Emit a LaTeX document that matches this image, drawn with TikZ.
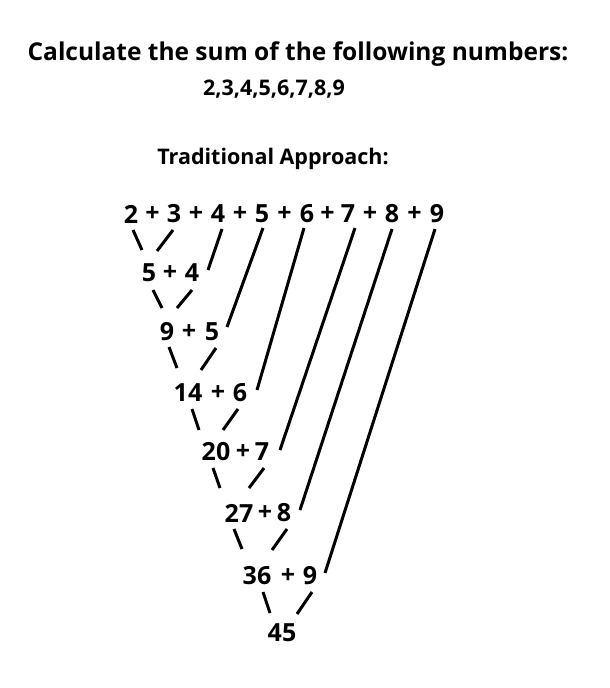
\documentclass[tikz,border=0pt]{standalone}
\usepackage{fontspec}
\setmainfont{Open Sans}
\usetikzlibrary{calc}
\begin{document}
\begin{tikzpicture}[x=1pt, y=-1pt,
        every node/.style={font=\fontsize{25}{30}\selectfont\bfseries, inner sep=0pt},
        heading/.style={font=\fontsize{21.5}{26}\selectfont\bfseries},
        stroke/.style={line width=3pt}]
            \useasboundingbox (0, 0) rectangle (610, 688);
            % heading
            \node[font=\fontsize{24.5}{30}\selectfont\bfseries] (title) at (298, 54) {Calculate the sum of the following numbers:};
            \node[heading] (list) at (274, 89) {2,3,4,5,6,7,8,9};
            \node[heading] (method) at (273, 159) {Traditional Approach:};

            % top row
            \node (t2) at (131, 214) {2};
            \node (t3) at (174, 214) {3};
            \node (t4) at (218, 214) {4};
            \node (t5) at (262, 214) {5};
            \node (t6) at (307, 214) {6};
            \node (t7) at (348, 214) {7};
            \node (t8) at (392, 214) {8};
            \node (t9) at (437, 214) {9};
            \node (p1) at ($(t2)!0.5!(t3)$) {+};
            \node (p2) at ($(t3)!0.5!(t4)$) {+};
            \node (p3) at ($(t4)!0.5!(t5)$) {+};
            \node (p4) at ($(t5)!0.5!(t6)$) {+};
            \node (p5) at ($(t6)!0.5!(t7)$) {+};
            \node (p6) at ($(t7)!0.5!(t8)$) {+};
            \node (p7) at ($(t8)!0.5!(t9)$) {+};

            % running sums
            \node (r1) at (149, 273) {5};
            \node (q1) at (170, 273) {+};
            \node (a1) at (192, 273) {4};
            \node (r2) at (167, 332) {9};
            \node (q2) at (189, 332) {+};
            \node (a2) at (212, 332) {5};
            \node (r3) at (188, 393) {14};
            \node (q3) at (218, 393) {+};
            \node (a3) at (240, 393) {6};
            \node (r4) at (216, 452) {20};
            \node (q4) at (243, 452) {+};
            \node (a4) at (262, 452) {7};
            \node (r5) at (239, 513) {27};
            \node (q5) at (265, 513) {+};
            \node (a5) at (284, 513) {8};
            \node (r6) at (257, 576) {36};
            \node (q6) at (288, 576) {+};
            \node (a6) at (310, 576) {9};
            \node (res) at (282, 633) {45};

            % short branches
            \draw[stroke] ([shift={(2, 16)}]t2.center) -- ([shift={(-7, -23)}]r1.center);
            \draw[stroke] ([shift={(-1, 16)}]t3.center) -- ([shift={(8, -22)}]r1.center);
            \draw[stroke] ([shift={(4, 17)}]r1.center) -- ([shift={(-5, -24)}]r2.center);
            \draw[stroke] ([shift={(0, 17)}]a1.center) -- ([shift={(10, -24)}]r2.center);
            \draw[stroke] ([shift={(2, 15)}]r2.center) -- ([shift={(-11, -25)}]r3.center);
            \draw[stroke] ([shift={(4, 16)}]a2.center) -- ([shift={(13, -23)}]r3.center);
            \draw[stroke] ([shift={(4, 16)}]r3.center) -- ([shift={(-17, -22)}]r4.center);
            \draw[stroke] ([shift={(-2, 16)}]a3.center) -- ([shift={(7, -22)}]r4.center);
            \draw[stroke] ([shift={(-3, 16)}]r4.center) -- ([shift={(-19, -25)}]r5.center);
            \draw[stroke] ([shift={(2, 16)}]a4.center) -- ([shift={(10, -25)}]r5.center);
            \draw[stroke] ([shift={(-5, 16)}]r5.center) -- ([shift={(-15, -27)}]r6.center);
            \draw[stroke] ([shift={(3, 16)}]a5.center) -- ([shift={(15, -26)}]r6.center);
            \draw[stroke] ([shift={(6, 16)}]r6.center) -- ([shift={(-12, -20)}]res.center);
            \draw[stroke] ([shift={(2, 16)}]a6.center) -- ([shift={(15, -19)}]res.center);

            % long strands
            \draw[stroke] ([shift={(4, 15)}]t4.center) -- ([shift={(16, -3)}]a1.center);
            \draw[stroke] ([shift={(1, 14)}]t5.center) -- ([shift={(15, -5)}]a2.center);
            \draw[stroke] ([shift={(-3, 14)}]t6.center) -- ([shift={(17, -3)}]a3.center);
            \draw[stroke] ([shift={(7, 14)}]t7.center) -- ([shift={(18, -2)}]a4.center);
            \draw[stroke] ([shift={(0, 15)}]t8.center) -- ([shift={(16, -3)}]a5.center);
            \draw[stroke] ([shift={(-2, 15)}]t9.center) -- ([shift={(15, -3)}]a6.center);
        \end{tikzpicture}
\end{document}
